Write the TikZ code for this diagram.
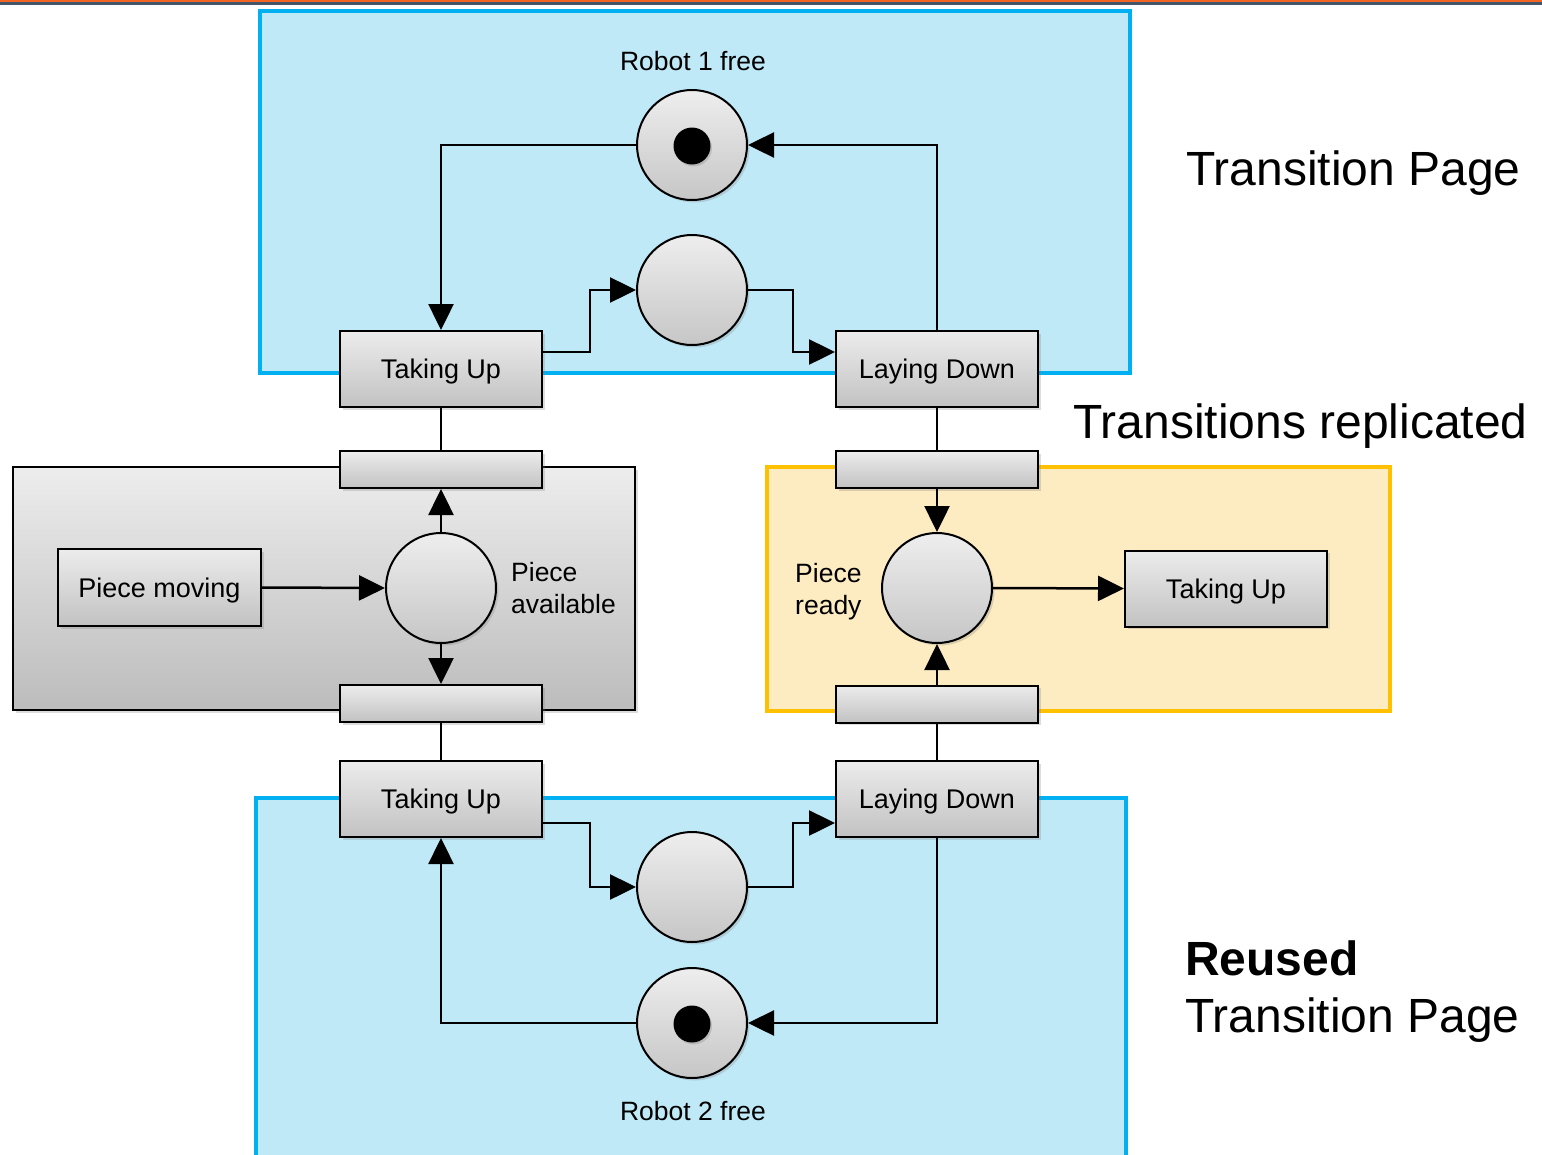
\documentclass[tikz,border=0pt]{standalone}
\usepackage{fontspec}
\setmainfont{Liberation Sans}
\usetikzlibrary{arrows.meta,shadows}

\definecolor{pageblue}{RGB}{0,176,240}
\definecolor{pagefill}{RGB}{192,233,248}
\definecolor{replborder}{RGB}{255,192,0}
\definecolor{replfill}{RGB}{253,235,193}
\definecolor{stripeorange}{RGB}{242,101,34}
\definecolor{stripeslate}{RGB}{68,84,106}
\definecolor{trtop}{RGB}{236,236,236}
\definecolor{trbot}{RGB}{194,194,194}
\definecolor{pltop}{RGB}{238,238,238}
\definecolor{plbot}{RGB}{198,198,198}
\definecolor{grptop}{RGB}{237,237,237}
\definecolor{grpbot}{RGB}{188,188,188}

\tikzset{
  softshadow/.style={drop shadow={shadow xshift=2.5pt,shadow yshift=-2.5pt,opacity=0.28}},
  trans/.style={rectangle, draw=black, line width=2pt, minimum width=202pt,
    minimum height=76pt, inner sep=0pt, top color=trtop, bottom color=trbot,
    softshadow, font=\fontsize{27}{32}\selectfont, text height=19pt, text depth=0pt},
  bar/.style={trans, minimum height=37pt},
  place/.style={circle, draw=black, line width=2pt, minimum size=110pt,
    inner sep=0pt, top color=pltop, bottom color=plbot, softshadow},
  token/.style={circle, fill=black, minimum size=37pt, inner sep=0pt,
    drop shadow={shadow xshift=1.5pt,shadow yshift=-2pt,opacity=0.3}},
  lbl/.style={inner sep=0pt, font=\fontsize{26.5}{32}\selectfont},
  big/.style={inner sep=0pt, font=\fontsize{48}{57}\selectfont},
  arc/.style={line width=2.5pt, -{Triangle[length=26pt,width=25pt]}},
  link/.style={line width=2.5pt},
  pageframe/.style={draw=pageblue, line width=4.5pt, fill=pagefill},
}

\begin{document}
\begin{tikzpicture}[x=1pt,y=-1pt]
\useasboundingbox (0,0) rectangle (1542,1154);

% header stripe
\fill[stripeorange] (0,0) rectangle (1542,2.2);
\fill[stripeslate] (0,2.2) rectangle (1542,5);

% page frames
\draw[pageframe] (260,11) rectangle (1130,373);
\draw[pageframe] (256,798) rectangle (1126,1160);
\draw[black, line width=1.6pt, top color=grptop, bottom color=grpbot, softshadow]
  (13,467) rectangle (635,710);
\draw[draw=replborder, line width=4.5pt, fill=replfill] (767,467) rectangle (1390,711);

% transitions
\node[trans] (tu1) at (441,369) {Taking Up};
\node[trans] (ld1) at (937,369) {Laying Down};
\node[bar]   (b1)  at (441,469.5) {};
\node[bar]   (b3)  at (937,469.5) {};
\node[bar]   (b2)  at (441,703.5) {};
\node[bar]   (b4)  at (937,704) {};
\node[trans] (tu2) at (441,799) {Taking Up};
\node[trans] (ld2) at (937,799) {Laying Down};
\node[trans, minimum width=203pt, minimum height=77pt] (pm) at (159.5,587.5) {Piece moving};
\node[trans] (tu3) at (1226,588.5) {Taking Up};

% places
\node[place] (r1) at (692,145) {};
\node[token] (tok1) at (692,146) {};
\node[place] (p1) at (692,290) {};
\node[place] (pa) at (441,588) {};
\node[place] (pr) at (937,588) {};
\node[place] (p2) at (692,887) {};
\node[place] (r2) at (692,1023) {};
\node[token] (tok2) at (692,1024) {};

% place labels
\node[lbl] (r1lbl) at (693,61) {Robot 1 free};
\node[lbl] (r2lbl) at (693,1111) {Robot 2 free};
\node[lbl, anchor=west, align=left] (palbl) at (511,588) {Piece\\available};
\node[lbl, anchor=west, align=left] (prlbl) at (795,592) {Piece\\ready};

% side captions
\node[big, anchor=base west] (cap1) at (1186,185) {Transition Page};
\node[big, anchor=base west] (cap2) at (1073,438) {Transitions replicated};
\node[big, anchor=base west, font=\fontsize{48}{57}\selectfont\bfseries] (cap3) at (1185,975) {Reused};
\node[big, anchor=base west] (cap4) at (1185,1032) {Transition Page};

% upper page arcs
\draw[arc] (r1.west) -| (tu1.north);
\draw[arc] (ld1.north) |- (r1.east);
\draw[arc] ([yshift=17pt]tu1.east) -- ++(47,0) |- (p1.west);
\draw[arc] (p1.east) -- ++(45,0) |- ([yshift=17pt]ld1.west);

% replicated transitions
\draw[link] (tu1.south) -- (b1.north);
\draw[link] (ld1.south) -- (b3.north);
\draw[link] (b2.south) -- (tu2.north);
\draw[link] (b4.south) -- (ld2.north);

% piece handling
\draw[arc] (pm.east) -- (pa.west);
\draw[arc] (pa.north) -- (b1.south);
\draw[arc] (pa.south) -- (b2.north);
\draw[arc] (b3.south) -- (pr.north);
\draw[arc] (b4.north) -- (pr.south);
\draw[arc] (pr.east) -- (tu3.west);

% lower page arcs
\draw[arc] ([yshift=-24pt]tu2.east) -- ++(47,0) |- (p2.west);
\draw[arc] (p2.east) -- ++(45,0) |- ([yshift=-24pt]ld2.west);
\draw[arc] (ld2.south) |- (r2.east);
\draw[arc] (r2.west) -| (tu2.south);
\end{tikzpicture}
\end{document}
